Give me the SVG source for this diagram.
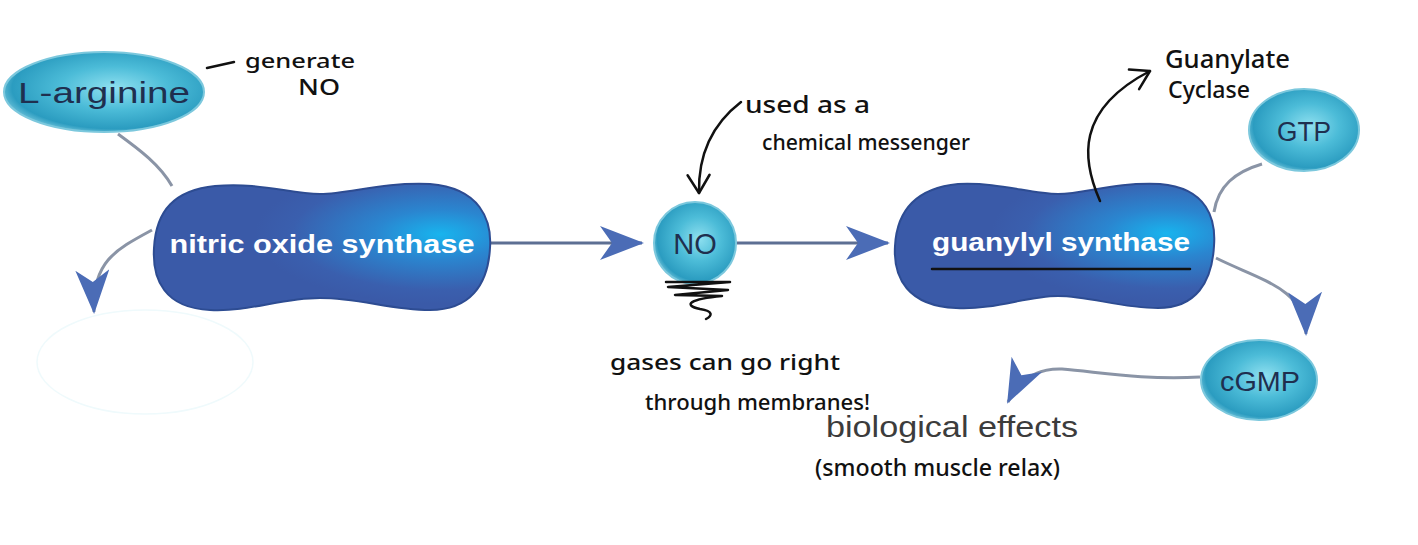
<svg xmlns="http://www.w3.org/2000/svg" width="1418" height="545" viewBox="0 0 1418 545">
<defs>
<radialGradient id="blobGrad" cx="0.85" cy="0.4" r="0.55">
<stop offset="0" stop-color="#18b4ee"/>
<stop offset="0.35" stop-color="#2a86d0"/>
<stop offset="0.8" stop-color="#3a5fae"/>
<stop offset="1" stop-color="#3a5aa8"/>
</radialGradient>
<radialGradient id="ellGrad" cx="0.55" cy="0.45" r="0.6">
<stop offset="0" stop-color="#8fe0f0"/>
<stop offset="0.45" stop-color="#4cbcd8"/>
<stop offset="0.85" stop-color="#2b9cc0"/>
<stop offset="1" stop-color="#7ccbe0"/>
</radialGradient>
<marker id="blueHead" markerUnits="userSpaceOnUse" markerWidth="44" markerHeight="34" viewBox="0 0 44 34" refX="42" refY="17" orient="auto">
<path d="M0,0 L44,17 L0,34 L12,17 Z" fill="#4b6cb6"/>
</marker>
<marker id="inkHead" markerUnits="userSpaceOnUse" markerWidth="30" markerHeight="30" viewBox="0 0 30 30" refX="28" refY="15" orient="auto">
<path d="M10,4 L28,15 L10,26" fill="none" stroke="#111" stroke-width="2.5" stroke-linecap="round" stroke-linejoin="round"/>
</marker>
<style>
.blob{fill:url(#blobGrad);stroke:#2d4c92;stroke-width:2}
.ell{fill:url(#ellGrad);stroke:#7cc8dd;stroke-width:2}
.wt{font-family:"Liberation Sans",Arial,sans-serif;font-weight:bold;fill:#ffffff;text-anchor:middle}
.dt{font-family:"Liberation Sans",Arial,sans-serif;fill:#1f2f4f;text-anchor:middle}
.gt{font-family:"Liberation Sans",Arial,sans-serif;fill:#3c3c3c}
.hw{font-family:"Noto Sans","DejaVu Sans",sans-serif;font-weight:500;fill:#111111}
.conn{fill:none;stroke:#8a94a6;stroke-width:3}
.connb{fill:none;stroke:#5d6f93;stroke-width:3}
.ink{fill:none;stroke:#111111;stroke-width:2.5;stroke-linecap:round;stroke-linejoin:round}
</style>
</defs>
<rect width="1418" height="545" fill="#ffffff"/>

<g id="connectors">
<path class="conn" d="M118,134 C 140,150 160,165 172,186"/>
<path class="conn" d="M152,230 C 115,250 92,262 94,312" marker-end="url(#blueHead)"/>
<path class="connb" d="M490,243 L642,243" marker-end="url(#blueHead)"/>
<path class="connb" d="M737,243 L888,243" marker-end="url(#blueHead)"/>
<path class="conn" d="M1262,164 C 1235,172 1218,186 1214,212"/>
<path class="conn" d="M1216,258 C 1260,280 1305,288 1306,334" marker-end="url(#blueHead)"/>
<path class="conn" d="M1200,377 C 1140,380 1100,372 1062,369 C 1035,368 1018,382 1008,402" marker-end="url(#blueHead)"/>
</g>

<g id="l-arginine">
<ellipse class="ell" cx="104" cy="92" rx="100" ry="40"/>
<text class="dt" x="104" y="103" font-size="30" textLength="172" lengthAdjust="spacingAndGlyphs">L-arginine</text>
</g>

<g id="nitric-oxide-synthase">
<path class="blob" d="M215,186 C 260,182 290,194 320,194 C 350,194 380,182 430,184 C 480,188 492,220 490,248 C 488,285 470,310 430,310 C 390,310 360,298 320,298 C 280,298 250,312 210,310 C 165,308 152,280 154,248 C 156,210 175,190 215,186 Z"/>
<text class="wt" x="322" y="253" font-size="26" textLength="305" lengthAdjust="spacingAndGlyphs">nitric oxide synthase</text>
</g>

<g id="blank-node">
<ellipse cx="145" cy="362" rx="108" ry="52" fill="#ffffff" stroke="#effafc" stroke-width="1.5"/>
</g>

<g id="no">
<circle class="ell" cx="695" cy="243" r="41"/>
<text class="dt" x="695" y="254" font-size="29">NO</text>
</g>

<g id="guanylyl-synthase">
<path class="blob" d="M958,184 C 1000,182 1030,194 1058,194 C 1086,194 1112,182 1160,184 C 1208,188 1216,220 1214,246 C 1212,282 1196,308 1158,308 C 1120,308 1090,296 1058,296 C 1026,296 996,310 956,308 C 908,306 893,278 895,246 C 897,208 918,188 958,184 Z"/>
<text class="wt" x="1061" y="251" font-size="26" textLength="258" lengthAdjust="spacingAndGlyphs">guanylyl synthase</text>
</g>

<g id="gtp">
<ellipse class="ell" cx="1304" cy="130" rx="55" ry="41"/>
<text class="dt" x="1304" y="141" font-size="27" textLength="54" lengthAdjust="spacingAndGlyphs">GTP</text>
</g>

<g id="cgmp">
<ellipse class="ell" cx="1259" cy="380" rx="58" ry="40"/>
<text class="dt" x="1260" y="391" font-size="27" textLength="80" lengthAdjust="spacingAndGlyphs">cGMP</text>
</g>

<g id="biological-effects">
<text class="gt" x="826" y="437" font-size="29" textLength="252" lengthAdjust="spacingAndGlyphs">biological effects</text>
</g>

<g id="annotations">
<path class="ink" d="M207,68 L234,62"/>
<text class="hw" x="245" y="68" font-size="20" textLength="110" lengthAdjust="spacingAndGlyphs">generate</text>
<text class="hw" x="298" y="95" font-size="22" textLength="42" lengthAdjust="spacingAndGlyphs">NO</text>

<text class="hw" x="745" y="113" font-size="23" textLength="125" lengthAdjust="spacingAndGlyphs">used as a</text>
<text class="hw" x="762" y="150" font-size="22" textLength="208" lengthAdjust="spacingAndGlyphs">chemical messenger</text>
<path class="ink" d="M741,102 C 715,122 698,150 699,193" marker-end="url(#inkHead)"/>

<path class="ink" d="M666,282 L730,282 L668,287 L728,290 L675,295 L722,296 C 690,299 682,305 700,309 C 714,311 712,316 706,319"/>
<text class="hw" x="610" y="370" font-size="22" textLength="230" lengthAdjust="spacingAndGlyphs">gases can go right</text>
<text class="hw" x="645" y="410" font-size="22" textLength="225" lengthAdjust="spacingAndGlyphs">through membranes!</text>

<path class="ink" d="M932,269 L1190,269"/>
<path class="ink" d="M1100,201 C 1082,160 1075,110 1150,71" marker-end="url(#inkHead)"/>
<text class="hw" x="1165" y="68" font-size="26" textLength="125" lengthAdjust="spacingAndGlyphs">Guanylate</text>
<text class="hw" x="1168" y="98" font-size="23" textLength="82" lengthAdjust="spacingAndGlyphs">Cyclase</text>

<text class="hw" x="815" y="476" font-size="23" textLength="245" lengthAdjust="spacingAndGlyphs">(smooth muscle relax)</text>
</g>
</svg>
